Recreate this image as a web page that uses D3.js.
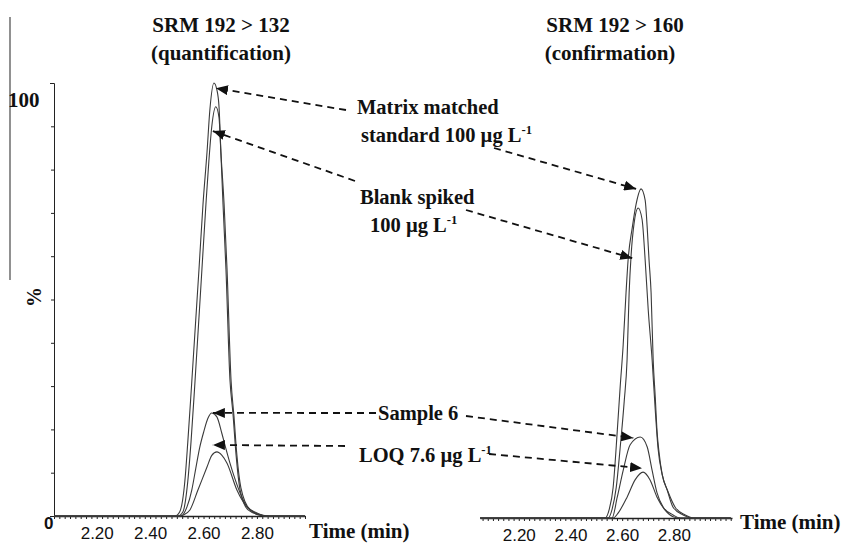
<!DOCTYPE html>
<html><head><meta charset="utf-8">
<script src="https://cdn.jsdelivr.net/npm/d3@7/dist/d3.min.js"></script>
<style>
body{margin:0;background:#fff;}
svg{display:block;}
.serif{font-family:"Liberation Serif","Times New Roman",Times,serif;font-weight:bold;fill:#111;}
.sans{font-family:"Liberation Sans",Arial,sans-serif;}
</style></head>
<body>
<script>
// ---------- data ----------
const tickTimes = [2.2, 2.4, 2.6, 2.8];
const tickLabels = ["2.20", "2.40", "2.60", "2.80"];
const yTicks = [0,10,20,30,40,50,60,70,80,90,100];

// SRM 192 > 132 (quantification)
const qMatrixT = [2.04,2.493,2.511,2.530,2.541,2.556,2.583,2.598,2.613,2.624,2.639,2.650,2.658,2.665,2.673,2.684,2.699,2.710,2.722,2.737,2.767,2.812,2.842,2.98];
const qMatrixV = [0,0,1,8,17,31,57,72,84,94,100,98.4,94.5,84,72,57,31.4,23.8,14,6,1.4,0.2,0,0];
const qBlankT  = [2.04,2.504,2.523,2.541,2.553,2.568,2.594,2.609,2.620,2.631,2.646,2.658,2.665,2.677,2.688,2.703,2.714,2.725,2.740,2.774,2.819,2.849,2.98];
const qBlankV  = [0,0,1,8,17,31,57,72,82,90,94.5,92,84,72,57,31.4,23,14,6.5,1.5,0.2,0,0];
const qSampleT = [2.04,2.515,2.538,2.556,2.571,2.586,2.601,2.616,2.631,2.650,2.669,2.684,2.699,2.718,2.737,2.759,2.785,2.812,2.834,2.98];
const qSampleV = [0,0,2.1,6,11,15.9,19.5,22.5,23.8,22.9,19,15.5,12.2,8.5,5.3,2.5,0.9,0.2,0,0];
const qLoqT    = [2.04,2.511,2.523,2.549,2.579,2.613,2.631,2.650,2.669,2.688,2.725,2.763,2.800,2.830,2.98];
const qLoqV    = [0,0,0.2,1.4,6,11.3,14,14.8,14,12.2,6,2.1,0.7,0,0];

// SRM 192 > 160 (confirmation)
const cMatrixT = [2.05,2.534,2.550,2.565,2.581,2.592,2.604,2.615,2.623,2.639,2.654,2.673,2.689,2.697,2.704,2.712,2.720,2.728,2.735,2.743,2.755,2.774,2.797,2.836,2.871,3.02];
const cMatrixV = [0,0,2,7,20,30,40,52,59.6,67,72.5,76,73.4,67,59.6,52,36.5,28,20,15,10,6.5,2.5,0.7,0,0];
const cBlankT  = [2.05,2.546,2.561,2.577,2.592,2.608,2.619,2.627,2.635,2.646,2.662,2.677,2.689,2.701,2.716,2.728,2.739,2.755,2.778,2.805,2.844,2.879,3.02];
const cBlankV  = [0,0,2,7,16,27,36.5,52,61,68,71.6,69,59.6,48,36.5,25,16,10,6,2.5,0.7,0,0];
const cSampleT = [2.05,2.561,2.581,2.604,2.631,2.670,2.697,2.716,2.735,2.759,2.797,2.824,3.02];
const cSampleV = [0,0,4.8,11,16.9,18.7,16.4,11,5.8,2.5,0.7,0,0];
const cLoqT    = [2.05,2.565,2.585,2.619,2.650,2.681,2.708,2.735,2.766,2.797,2.824,3.02];
const cLoqV    = [0,0,1.2,4.8,8.8,10.6,8.8,4.8,1.8,0.3,0,0];

// ---------- layout ----------
const W = 842, H = 545;
const svg = d3.select("body").append("svg").attr("width", W).attr("height", H);

const xL = d3.scaleLinear().domain([2.04, 2.98]).range([54, 305]);
const yL = d3.scaleLinear().domain([0, 100]).range([516, 83]);
const xR = d3.scaleLinear().domain([2.05, 3.025]).range([480, 732]);
const yR = d3.scaleLinear().domain([0, 100]).range([518, 85]);

// stray scan line at far left
svg.append("line").attr("x1",10).attr("x2",10).attr("y1",17).attr("y2",280)
  .attr("stroke","#555").attr("stroke-width",1.3);

// y axis (left panel)
const yAx = svg.append("g").attr("transform","translate(54,0)")
  .call(d3.axisLeft(yL).tickValues(yTicks).tickSize(3).tickSizeOuter(4).tickFormat(""));
yAx.selectAll("path,line").attr("stroke","#222").attr("stroke-width",1);

function xAxis(x, y0){
  const minor = d3.range(Math.ceil(x.domain()[0]*50)/50, x.domain()[1]+1e-9, 0.02);
  const g = svg.append("g").attr("transform",`translate(0,${y0})`)
    .call(d3.axisBottom(x).tickValues(minor).tickSize(3).tickSizeOuter(0).tickFormat(""));
  g.selectAll("path,line").attr("stroke","#222").attr("stroke-width",1);
  g.select("path").attr("stroke-width",1.6);
  const g2 = svg.append("g").attr("transform",`translate(0,${y0})`)
    .call(d3.axisBottom(x).tickValues(tickTimes).tickSize(0).tickPadding(10.5)
      .tickFormat((d,i)=>tickLabels[i]));
  g2.select("path").remove();
  g2.selectAll("text").attr("class","sans").attr("font-size",17).attr("fill","#111");
}
xAxis(xL, 516);
xAxis(xR, 518);

// traces
function trace(x, y, T, V){
  const line = d3.line().x((d,i)=>x(T[i])).y((d,i)=>y(V[i])).curve(d3.curveMonotoneX);
  svg.append("path").datum(T).attr("d", line).attr("fill","none")
    .attr("stroke","#3a3a3a").attr("stroke-width",1.1);
}
trace(xL, yL, qMatrixT, qMatrixV);
trace(xL, yL, qBlankT, qBlankV);
trace(xL, yL, qSampleT, qSampleV);
trace(xL, yL, qLoqT, qLoqV);
trace(xR, yR, cMatrixT, cMatrixV);
trace(xR, yR, cBlankT, cBlankV);
trace(xR, yR, cSampleT, cSampleV);
trace(xR, yR, cLoqT, cLoqV);

// labels
function txt(x, y, s, size, anchor){
  return svg.append("text").attr("class","serif").attr("x",x).attr("y",y)
    .attr("font-size",size).attr("text-anchor",anchor||"start").text(s);
}
function txtSup(x, y, s, size){
  const t = txt(x, y, s, size);
  t.append("tspan").attr("font-size",size*0.62).attr("dy",-size*0.38).text("-1");
  return t;
}
txt(221, 32, "SRM 192 > 132", 21, "middle");
txt(221, 60, "(quantification)", 21, "middle");
txt(615, 32, "SRM 192 > 160", 21, "middle");
txt(610, 60, "(confirmation)", 21, "middle");

txt(8, 107, "100", 21);
svg.append("text").attr("class","sans").attr("x",44).attr("y",529)
  .attr("font-size",17).attr("font-weight","bold").attr("fill","#111").text("0");
svg.append("text").attr("class","serif").attr("transform","translate(41,297) rotate(-90)")
  .attr("font-size",20).attr("text-anchor","middle").text("%");

txt(309, 538, "Time (min)", 21);
txt(740, 529, "Time (min)", 21);

txt(357, 114, "Matrix  matched", 20.5);
txtSup(361, 142, "standard 100 µg L", 20.5);
txt(360, 204, "Blank spiked", 20.5);
txtSup(370, 232, "100 µg L", 20.5);
txt(378, 420, "Sample 6", 20.5);
txtSup(359, 462, "LOQ 7.6 µg L", 20.5);

// arrows (tips anchored to data space via scales)
svg.append("defs").append("marker").attr("id","ah")
  .attr("viewBox","0 0 12 10").attr("refX",12).attr("refY",5)
  .attr("markerWidth",12).attr("markerHeight",10)
  .attr("markerUnits","userSpaceOnUse").attr("orient","auto")
  .append("path").attr("d","M0,0L12,5L0,10Z").attr("fill","#111");

const arrows = [
  {from:[346,110], panel:"L", t:2.6465, v:98.8},
  {from:[494,148], panel:"R", t:2.654,  v:76},
  {from:[355,181], panel:"L", t:2.635,  v:88.9},
  {from:[466,210], panel:"R", t:2.639,  v:60},
  {from:[376,413], panel:"L", t:2.635,  v:23.8},
  {from:[466,416], panel:"R", t:2.643,  v:18.5},
  {from:[345,446], panel:"L", t:2.635,  v:16.4},
  {from:[489,454], panel:"R", t:2.677,  v:11.5}
];
arrows.forEach(a=>{
  const x = a.panel==="L"?xL:xR, y = a.panel==="L"?yL:yR;
  svg.append("line").attr("x1",a.from[0]).attr("y1",a.from[1])
    .attr("x2",x(a.t)).attr("y2",y(a.v))
    .attr("stroke","#111").attr("stroke-width",1.8)
    .attr("stroke-dasharray","7,5").attr("marker-end","url(#ah)");
});
</script>
</body></html>
